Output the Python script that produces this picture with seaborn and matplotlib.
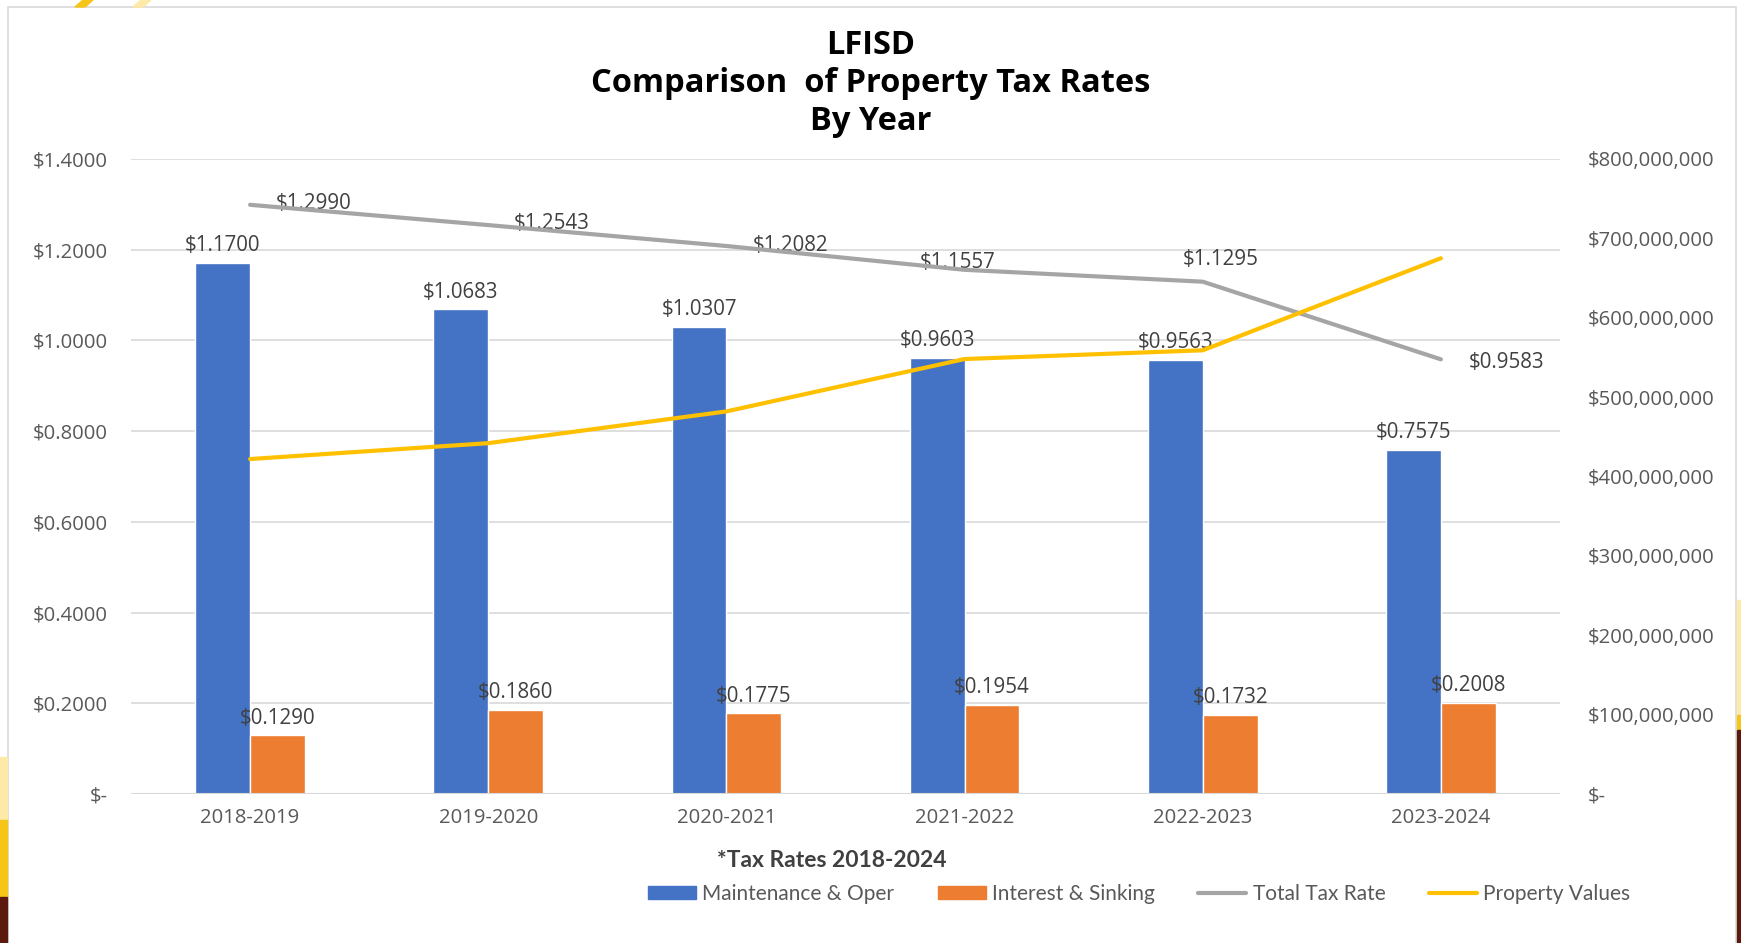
import numpy as np
import pandas as pd
import matplotlib.pyplot as plt
import matplotlib.patches as mpatches
from matplotlib.lines import Line2D
from matplotlib.ticker import FuncFormatter, MultipleLocator
import seaborn as sns

# ---------- data ----------
years = ['2018-2019', '2019-2020', '2020-2021', '2021-2022', '2022-2023', '2023-2024']
maint_oper = [1.1700, 1.0683, 1.0307, 0.9603, 0.9563, 0.7575]
int_sinking = [0.1290, 0.1860, 0.1775, 0.1954, 0.1732, 0.2008]
total_rate = [1.2990, 1.2543, 1.2082, 1.1557, 1.1295, 0.9583]
property_values = [422e6, 442e6, 482e6, 548e6, 559e6, 675e6]

# label offsets (points) for the total tax rate labels
total_label_off = [(46, 1), (46, 1), (46, 0), (-5, 5), (13, 16), (47, -2)]

BLUE, ORANGE, GRAY, GOLD = '#4472C4', '#ED7D31', '#A5A5A5', '#FFC000'
TXT = '#595959'
NUMFONT = ['Open Sans', 'DejaVu Sans']
TICK_FS = 14.6
LABEL_FS = 14.8

bars = pd.DataFrame({
    'year': years * 2,
    'rate': maint_oper + int_sinking,
    'kind': ['Maintenance & Oper'] * len(years) + ['Interest & Sinking'] * len(years),
})

sns.set_style('white')
plt.rcParams['font.family'] = ['Lato', 'DejaVu Sans']

fig = plt.figure(figsize=(17.41, 9.43), dpi=100)

# slide decorations around the chart frame
fig.patches.append(mpatches.Rectangle((8 / 1741, -0.01), 1728 / 1741, 1 - 7 / 943 + 0.01,
                                      transform=fig.transFigure, fill=False,
                                      edgecolor='#D9D9D9', lw=1.2, zorder=0))
for y0, y1, c in [(757, 820, '#FDE9A8'), (820, 897, '#F5C518'), (897, 943, '#5C1A0E')]:
    fig.patches.append(mpatches.Rectangle((0, 1 - y1 / 943), 7 / 1741, (y1 - y0) / 943,
                                          transform=fig.transFigure, color=c, zorder=0))
for y0, y1, c in [(600, 715, '#FDE9A8'), (715, 730, '#F5C518'), (730, 943, '#5C1A0E')]:
    fig.patches.append(mpatches.Rectangle((1737 / 1741, 1 - y1 / 943), 4 / 1741, (y1 - y0) / 943,
                                          transform=fig.transFigure, color=c, zorder=0))
for x0, c in [(75, '#F5C518'), (133, '#FDE9A8')]:
    fig.patches.append(mpatches.Polygon([(x0 / 1741, 1 - 7 / 943), ((x0 + 10) / 1741, 1 - 7 / 943),
                                         ((x0 + 18) / 1741, 1.0), ((x0 + 8) / 1741, 1.0)],
                                        transform=fig.transFigure, color=c, zorder=0))

ax = fig.add_axes([131 / 1741, 1 - 794 / 943, 1429 / 1741, 635 / 943])

sns.barplot(data=bars, x='year', y='rate', hue='kind', order=years,
            palette=[BLUE, ORANGE], width=0.46, ax=ax, legend=False,
            saturation=1, errorbar=None)

money4 = lambda v: '$-' if abs(v) < 1e-9 else f'${v:.4f}'
for cont in ax.containers:
    ax.bar_label(cont, labels=[f'${v:.4f}' for v in cont.datavalues],
                 padding=5, fontsize=LABEL_FS, color='#404040', family=NUMFONT)

xs = np.arange(len(years))
sns.lineplot(x=xs, y=total_rate, color=GRAY, lw=3, ax=ax, zorder=4)
for x, v, (dx, dy) in zip(xs, total_rate, total_label_off):
    ax.annotate(f'${v:.4f}', (x, v), xytext=(dx, dy), textcoords='offset points',
                ha='center', va='center', fontsize=LABEL_FS, color='#404040',
                family=NUMFONT, zorder=3)

ax.set_xlim(-0.5, len(years) - 0.5)
ax.set_ylim(0, 1.4)
ax.yaxis.set_major_locator(MultipleLocator(0.2))
ax.yaxis.set_major_formatter(FuncFormatter(lambda v, p: money4(v)))
ax.grid(axis='y', color='#D9D9D9', lw=1.2)
ax.set_axisbelow(True)
for s in ax.spines.values():
    s.set_visible(False)
ax.axhline(0, color='#D9D9D9', lw=1.5, zorder=1)
ax.tick_params(axis='y', length=0, pad=17, labelcolor=TXT)
ax.tick_params(axis='x', length=0, pad=10, labelcolor=TXT)
for lab in ax.get_xticklabels() + ax.get_yticklabels():
    lab.set_family(NUMFONT)
    lab.set_fontsize(TICK_FS)
ax.set_xlabel('')
ax.set_ylabel('')

# property values on secondary axis
ax2 = ax.twinx()
sns.lineplot(x=xs, y=property_values, color=GOLD, lw=3, ax=ax2)
ax2.set_ylim(0, 800e6)
ax2.yaxis.set_major_locator(MultipleLocator(100e6))
ax2.yaxis.set_major_formatter(FuncFormatter(lambda v, p: '$-' if v == 0 else f'${v:,.0f}'))
ax2.grid(False)
for s in ax2.spines.values():
    s.set_visible(False)
ax2.tick_params(axis='y', length=0, pad=20, labelcolor=TXT)
for lab in ax2.get_yticklabels():
    lab.set_family(NUMFONT)
    lab.set_fontsize(TICK_FS)
ax2.set_ylabel('')

# titles
tkw = dict(ha='center', va='center', fontsize=23.5, fontweight='bold', color='black',
           family=['Open Sans', 'DejaVu Sans'])
fig.text(0.5, 0.952, 'LFISD', **tkw)
fig.text(0.5, 0.911, 'Comparison  of Property Tax Rates', **tkw)
fig.text(0.5, 0.871, 'By Year', **tkw)
fig.text(832 / 1741, 0.087, '*Tax Rates 2018-2024', ha='center', va='center',
         fontsize=16.5, fontweight='bold', color='#404040')

handles = [
    mpatches.Patch(color=BLUE, label='Maintenance & Oper'),
    mpatches.Patch(color=ORANGE, label='Interest & Sinking'),
    Line2D([], [], color=GRAY, lw=3, label='Total Tax Rate'),
    Line2D([], [], color=GOLD, lw=3, label='Property Values'),
]
fig.legend(handles=handles, loc='center', bbox_to_anchor=(1139 / 1741, 0.052), ncol=4,
           frameon=False, fontsize=15, labelcolor=TXT, handlelength=2.3,
           handleheight=0.6, handletextpad=0.3, columnspacing=2.1)

fig.savefig('out.png', dpi=100)
